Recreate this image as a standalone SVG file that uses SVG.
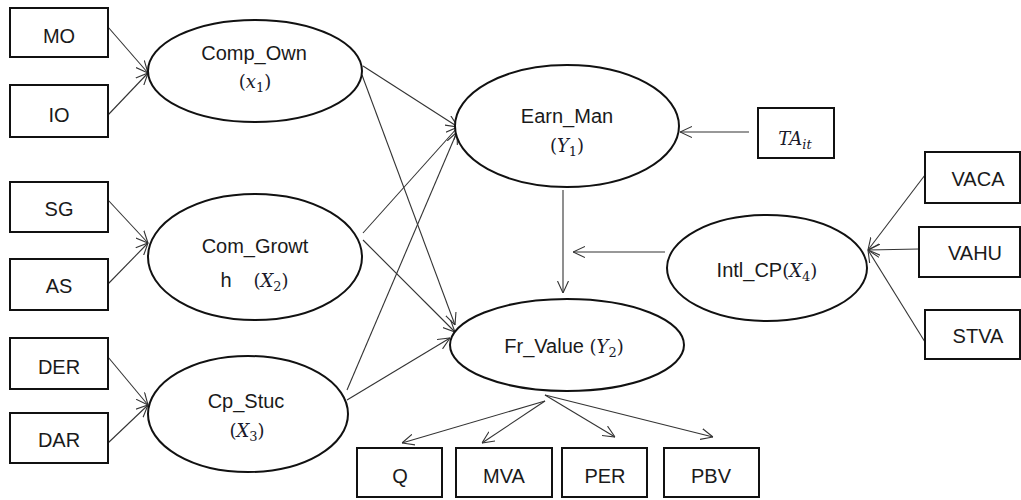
<svg xmlns="http://www.w3.org/2000/svg" width="1021" height="500" viewBox="0 0 1021 500">
<style>
.box{fill:#fff;stroke:#111;stroke-width:2}
.ell{fill:#fff;stroke:#111;stroke-width:2}
.t{font-family:"Liberation Sans",Arial,sans-serif;font-size:20px;fill:#1a1a1a;text-anchor:middle}
.m{font-family:"DejaVu Serif","Liberation Serif",serif;font-style:italic;font-size:18px;fill:#1a1a2a}
.p{font-style:normal}
.s{font-size:13px;font-style:normal}
.si{font-size:13px}
.c{fill:none;stroke:#333;stroke-width:1.1;marker-end:url(#ah)}
</style>
<defs>
<marker id="ah" viewBox="0 0 12 12" refX="12" refY="6" markerWidth="12" markerHeight="12" markerUnits="userSpaceOnUse" orient="auto">
<path d="M0,0.5 L12,6 L0,11.5" fill="none" stroke="#333" stroke-width="1.1"/>
</marker>
</defs>
<rect width="1021" height="500" fill="#fff"/>
<g id="connectors">
<line class="c" x1="108" y1="27" x2="148" y2="73"/>
<line class="c" x1="108" y1="115" x2="148" y2="73"/>
<line class="c" x1="108" y1="200" x2="148" y2="243"/>
<line class="c" x1="108" y1="284" x2="148" y2="243"/>
<line class="c" x1="108" y1="357" x2="148" y2="405"/>
<line class="c" x1="108" y1="443" x2="148" y2="405"/>
<line class="c" x1="363" y1="66" x2="458" y2="127"/>
<line class="c" x1="362" y1="75" x2="455" y2="325"/>
<line class="c" x1="363" y1="233" x2="458" y2="127"/>
<line class="c" x1="363" y1="240" x2="455" y2="332"/>
<line class="c" x1="347" y1="390" x2="457" y2="132"/>
<line class="c" x1="347" y1="400" x2="450" y2="338"/>
<line class="c" x1="749" y1="132" x2="680" y2="132"/>
<line class="c" x1="563" y1="190" x2="563" y2="293"/>
<line class="c" x1="665" y1="252" x2="573" y2="252"/>
<line class="c" x1="925" y1="175" x2="868" y2="250"/>
<line class="c" x1="919" y1="249" x2="868" y2="250"/>
<line class="c" x1="925" y1="342" x2="868" y2="250"/>
<line class="c" x1="545" y1="401" x2="402" y2="443"/>
<line class="c" x1="545" y1="401" x2="482" y2="443"/>
<line class="c" x1="545" y1="395" x2="615" y2="437"/>
<line class="c" x1="545" y1="395" x2="713" y2="437"/>
</g>
<g id="MO"><rect class="box" x="10" y="8" width="98" height="49"/><text class="t" x="59" y="43">MO</text></g>
<g id="IO"><rect class="box" x="10" y="85" width="98" height="52"/><text class="t" x="59" y="122">IO</text></g>
<g id="SG"><rect class="box" x="10" y="182" width="98" height="50"/><text class="t" x="59" y="216">SG</text></g>
<g id="AS"><rect class="box" x="10" y="259" width="98" height="51"/><text class="t" x="59" y="293">AS</text></g>
<g id="DER"><rect class="box" x="10" y="338" width="98" height="51"/><text class="t" x="59" y="374">DER</text></g>
<g id="DAR"><rect class="box" x="10" y="413" width="98" height="50"/><text class="t" x="59" y="447">DAR</text></g>
<g id="Comp_Own"><ellipse class="ell" cx="255" cy="71" rx="107" ry="51"/><text class="t" x="254" y="60">Comp_Own</text><text class="m" x="255" y="88" text-anchor="middle"><tspan class="p">(</tspan>x<tspan class="s" dy="4">1</tspan><tspan class="p" dy="-4">)</tspan></text></g>
<g id="Com_Growth"><ellipse class="ell" cx="255" cy="257" rx="107" ry="63"/><text class="t" x="255" y="253">Com_Growt</text><text class="t" x="226" y="287">h</text><text class="m" x="271" y="287" text-anchor="middle"><tspan class="p">(</tspan>X<tspan class="s" dy="4">2</tspan><tspan class="p" dy="-4">)</tspan></text></g>
<g id="Cp_Stuc"><ellipse class="ell" cx="248" cy="414" rx="100" ry="58"/><text class="t" x="246" y="408">Cp_Stuc</text><text class="m" x="247" y="437" text-anchor="middle"><tspan class="p">(</tspan>X<tspan class="s" dy="4">3</tspan><tspan class="p" dy="-4">)</tspan></text></g>
<g id="Earn_Man"><ellipse class="ell" cx="567" cy="126" rx="112" ry="61"/><text class="t" x="567" y="123">Earn_Man</text><text class="m" x="567" y="152" text-anchor="middle"><tspan class="p">(</tspan>Y<tspan class="s" dy="4">1</tspan><tspan class="p" dy="-4">)</tspan></text></g>
<g id="TAit"><rect class="box" x="758" y="108" width="76" height="50"/><text class="m" x="795" y="145" text-anchor="middle">TA<tspan class="si" dy="4">it</tspan></text></g>
<g id="Intl_CP"><ellipse class="ell" cx="767" cy="268" rx="100" ry="53"/><text class="t" x="767" y="277"><tspan>Intl_CP</tspan><tspan class="m"><tspan class="p">(</tspan>X<tspan class="s" dy="4">4</tspan><tspan class="p" dy="-4">)</tspan></tspan></text></g>
<g id="VACA"><rect class="box" x="925" y="152" width="95" height="51"/><text class="t" x="978" y="186">VACA</text></g>
<g id="VAHU"><rect class="box" x="919" y="227" width="101" height="50"/><text class="t" x="975" y="260">VAHU</text></g>
<g id="STVA"><rect class="box" x="925" y="310" width="95" height="49"/><text class="t" x="978" y="343">STVA</text></g>
<g id="Fr_Value"><ellipse class="ell" cx="567" cy="345" rx="117" ry="46"/><text class="t" x="564" y="353"><tspan>Fr_Value </tspan><tspan class="m"><tspan class="p">(</tspan>Y<tspan class="s" dy="4">2</tspan><tspan class="p" dy="-4">)</tspan></tspan></text></g>
<g id="Q"><rect class="box" x="357" y="448" width="85" height="49"/><text class="t" x="400" y="483">Q</text></g>
<g id="MVA"><rect class="box" x="456" y="448" width="96" height="49"/><text class="t" x="504" y="483">MVA</text></g>
<g id="PER"><rect class="box" x="562" y="448" width="85" height="49"/><text class="t" x="605" y="483">PER</text></g>
<g id="PBV"><rect class="box" x="664" y="448" width="95" height="49"/><text class="t" x="711" y="483">PBV</text></g>
</svg>
